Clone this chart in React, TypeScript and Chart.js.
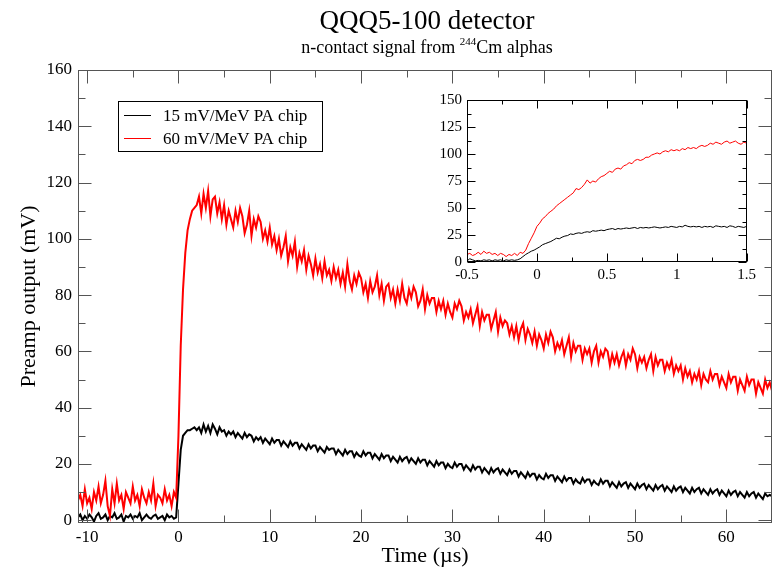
import React, { useEffect, useRef } from "react";
import { Chart, registerables } from "chart.js";

Chart.register(...registerables);

const FONT = '"Liberation Serif", "Times New Roman", serif';

const TITLE = "QQQ5-100 detector";
const SUBTITLE_PRE = "n-contact signal from ";
const SUBTITLE_SUP = "244";
const SUBTITLE_POST = "Cm alphas";
const X_TITLE = "Time (\u00b5s)";
const Y_TITLE = "Preamp output (mV)";
const SERIES_LABELS = ["15 mV/MeV PA chip", "60 mV/MeV PA chip"];
const SERIES_COLORS = ["#000000", "#ff0000"];

// main trace sampling (µs)
const MAIN_T_START = -11;
const MAIN_T_STEP = 0.25;

const MAIN_RED = [
  7, 9, 5, 11, 6, 8, 4, 10, 7, 12, 6, 9, 14, 5, 1.5, 11, 6, 13, 7, 9, 4, 10, 8, 6, 12, 7, 9, 5, 11, 8, 6, 10, 7, 13, 5, 9, 8, 6, 11, 7, 9, 5, 10, 8,
  30, 62, 82, 95, 103, 107, 110, 111, 112,
  115, 109, 116,
  111, 117, 108, 114,
  115, 109, 113, 107,
  112, 105, 110, 107,
  104, 110, 106, 111,
  108, 102, 105, 110,
  101, 107, 104, 108,
  106, 100, 103, 99,
  104, 98, 101, 96,
  100, 94, 97, 101,
  92, 97, 94, 99,
  90, 95, 92, 96,
  89, 94, 91, 87,
  93, 88, 91, 86,
  92, 87, 89, 85,
  90, 86, 89, 84,
  88, 83, 91, 85,
  82, 87, 84, 88,
  86, 81, 84, 79,
  85, 81, 83, 87,
  80, 84, 78, 83,
  84, 79, 82, 77,
  82, 78, 84, 79,
  77, 82, 79, 83,
  81, 76, 78, 82,
  75, 80, 77, 79,
  79, 74, 78, 75,
  78, 73, 77, 74,
  72, 77, 75, 78,
  76, 71, 74, 72,
  75, 70, 73, 76,
  69, 74, 71, 73,
  73, 68, 71, 74,
  67, 72, 69, 71,
  70, 66, 69, 65,
  69, 64, 68, 70,
  64, 68, 66, 63,
  67, 62, 66, 64,
  61, 66, 63, 67,
  65, 60, 63, 61,
  64, 59, 62, 65,
  58, 63, 60, 62,
  62, 57, 61, 59,
  61, 56, 60, 62,
  56, 60, 58, 61,
  60, 55, 59, 56,
  59, 55, 58, 60,
  55, 59, 57, 61,
  59, 54, 58, 56,
  58, 54, 57, 59,
  53, 58, 55, 57,
  57, 53, 56, 54,
  57, 52, 55, 53,
  55, 50, 54, 51,
  53, 49, 52, 50,
  53, 48, 52, 50,
  49, 53, 50, 52,
  52, 48, 51, 49,
  47, 52, 49, 51,
  51, 46, 50, 48,
  46, 51, 48, 50,
  50, 45, 49, 47,
  45, 50, 47, 49,
  46,
];

const MAIN_BLACK = [
  1, 2, 0, 1.5, 0.5, 2, 1, -0.5, 1.5, 2.5, 0.5, 1, 2, 0, 1.5, 1, 2.5, 0.5, 1, 2, -0.5, 1.5, 1, 2, 0.5, 1.5, 1, 2.5, 0, 1, 2, 1, 0.5, 1.5, 2, 0.5, 1, 1.5, 0, 2, 1, 1.5, 0.5, 1,
  13, 25, 30, 31, 32, 32, 32.5, 33, 32,
  33, 31, 34,
  31.5, 33.5, 31, 34,
  32.5, 30.5, 33, 31.5,
  32, 30, 31.5, 30.5,
  31.5, 29.5, 31, 30,
  29, 31, 29.5, 30.5,
  30, 28, 29.5, 28.5,
  29.5, 27.5, 29, 28,
  27, 29, 27.5, 28.5,
  28.5, 26.5, 28, 27,
  26, 28, 26.5, 27.5,
  27.5, 25.5, 27, 26,
  25, 27, 25.5, 26.5,
  26.5, 24.5, 26, 25,
  24, 26, 25, 25.5,
  25.5, 23.5, 25, 24,
  23, 25, 23.5, 24.5,
  24.5, 22.5, 24, 23,
  22.5, 24.5, 23, 24,
  24, 22, 23.5, 22.5,
  21.5, 23.5, 22, 23,
  23, 21, 22.5, 21.5,
  20.5, 22.5, 21, 22,
  22.5, 20.5, 22, 21,
  20, 22, 20.5, 21.5,
  21.5, 19.5, 21, 20,
  19, 21, 19.5, 20.5,
  20.5, 18.5, 20, 19,
  18.5, 20.5, 19, 20,
  20, 18, 19.5, 18.5,
  17.5, 19.5, 18, 19,
  19, 17, 18.5, 17.5,
  16.5, 18.5, 17, 18,
  18.5, 16.5, 18, 17,
  16, 18, 16.5, 17.5,
  17.5, 15.5, 17, 16,
  15, 17, 15.5, 16.5,
  16.5, 14.5, 16, 15,
  14.5, 16.5, 15, 16,
  16, 14, 15.5, 14.5,
  13.5, 15.5, 14, 15,
  15, 13, 14.5, 13.5,
  13, 15, 13.5, 14.5,
  14.5, 12.5, 14, 13,
  12.5, 14.5, 13, 14,
  14, 12, 13.5, 12.5,
  11.5, 13.5, 12, 13,
  13.5, 11.5, 13, 12,
  11, 13, 11.5, 12.5,
  13, 11, 12.5, 11.5,
  10.5, 12.5, 11, 12,
  12.5, 10.5, 12, 11,
  10, 12, 10.5, 11.5,
  12, 10, 11.5, 10.5,
  9.5, 11.5, 10, 11,
  11.5, 9.5, 11, 10,
  9, 11, 9.5, 10.5,
  11, 9, 10.5, 9.5,
  8.5, 10.5, 9, 10,
  10.5, 8.5, 10, 9,
  8, 10, 8.5, 9.5,
  10, 8, 9.5, 8.5,
  7.5, 9.5, 8.5, 9,
  8.5,
];

// inset trace sampling (µs)
const INSET_T_START = -0.5;
const INSET_T_STEP = 0.02;

const INSET_RED = [
  7, 8, 6, 7, 9, 7, 10, 8, 9, 7, 8, 6, 8, 7, 5, 7, 6, 8, 6, 9,
  8, 11, 17, 22, 27, 33, 36, 40, 42, 45,
  47, 49, 52, 54, 56, 58, 60, 62, 64, 68,
  67, 69, 72, 76, 73, 75, 74, 77, 79, 80,
  82, 84, 83, 86, 87, 86, 89, 90, 92, 91,
  94, 95, 94, 95, 97, 97, 99, 100, 101, 100,
  102, 103, 102, 104, 103, 104, 103, 105, 104, 106,
  105, 106, 105, 107, 108, 107, 108, 110, 109, 111,
  110, 109, 111, 112, 110, 111, 112, 110, 109, 111,
  110,
];

const INSET_BLACK = [
  1, 3, 2, 1, 1.5, 1, 2, 1.5, 2, 1, 2, 1.5, 2, 1, 2, 1.5, 2, 1.5, 2, 3,
  5, 7, 8.5, 10, 11, 12.5, 14, 16, 17, 18,
  19, 20.5, 22, 21.5, 23, 24, 24.5, 26, 25.5, 26.5,
  27, 26.5, 27.5, 28, 27.5, 29, 28.5, 29, 29.5, 29,
  30, 30.5, 31, 30, 31, 30.5, 31, 31.5, 31, 31.5,
  32, 31, 32, 31.5, 32, 31.5, 32, 32.5, 32, 31.5,
  32, 32.5, 32, 33, 32.5, 32, 33, 32.5, 34, 33,
  32.5, 33, 32.5, 33, 32, 33, 32.5, 33, 32, 33.5,
  33, 32.5, 33, 32, 33.5, 33, 32, 33, 32.5, 32,
  33,
];

const MAIN_X_TICKS = [-10, 0, 10, 20, 30, 40, 50, 60];
const MAIN_X_MINOR = [-5, 5, 15, 25, 35, 45, 55];
const MAIN_Y_TICKS = [0, 20, 40, 60, 80, 100, 120, 140, 160];
const MAIN_Y_MINOR = [10, 30, 50, 70, 90, 110, 130, 150];
const INSET_X_TICKS = [-0.5, 0, 0.5, 1, 1.5];
const INSET_X_MINOR = [-0.25, 0.25, 0.75, 1.25];
const INSET_Y_TICKS = [0, 25, 50, 75, 100, 125, 150];
const INSET_Y_MINOR = [12.5, 37.5, 62.5, 87.5, 112.5, 137.5];

function toPoints(vals: number[], start: number, step: number) {
  return vals.map((y, i) => ({ x: start + i * step, y }));
}

type FrameCfg = {
  color: string;
  xMajor: number[];
  xMinor: number[];
  yMajor: number[];
  yMinor: number[];
  majorLen: number;
  minorLen: number;
  extra?: (chart: any) => void;
};

function framePlugin(cfg: FrameCfg) {
  return {
    id: "frameTicks",
    afterDraw(chart: any) {
      const { ctx, chartArea: a, scales } = chart;
      const xs = scales.x;
      const ys = scales.y;
      ctx.save();
      ctx.strokeStyle = cfg.color;
      ctx.lineWidth = 1;
      const L = Math.round(a.left) + 0.5;
      const R = Math.round(a.right) - 0.5;
      const T = Math.round(a.top) + 0.5;
      const B = Math.round(a.bottom) - 0.5;
      ctx.beginPath();
      const tx = (vals: number[], len: number) =>
        vals.forEach((v) => {
          const p = Math.round(xs.getPixelForValue(v)) + 0.5;
          ctx.moveTo(p, B);
          ctx.lineTo(p, B - len);
          ctx.moveTo(p, T);
          ctx.lineTo(p, T + len);
        });
      const ty = (vals: number[], len: number) =>
        vals.forEach((v) => {
          const p = Math.round(ys.getPixelForValue(v)) + 0.5;
          ctx.moveTo(L, p);
          ctx.lineTo(L + len, p);
          ctx.moveTo(R, p);
          ctx.lineTo(R - len, p);
        });
      tx(cfg.xMajor, cfg.majorLen);
      tx(cfg.xMinor, cfg.minorLen);
      ty(cfg.yMajor, cfg.majorLen);
      ty(cfg.yMinor, cfg.minorLen);
      ctx.stroke();
      ctx.strokeRect(L, T, R - L, B - T);
      ctx.restore();
      if (cfg.extra) cfg.extra(chart);
    },
  };
}

function drawMainDecor(chart: any) {
  const { ctx, chartArea: a } = chart;
  const cx = 427;
  ctx.save();
  ctx.fillStyle = "#000";
  ctx.textAlign = "center";
  ctx.textBaseline = "alphabetic";
  ctx.font = `27px ${FONT}`;
  ctx.fillText(TITLE, cx, 29);

  // subtitle with superscript
  const mainFont = `18px ${FONT}`;
  const supFont = `11px ${FONT}`;
  ctx.font = mainFont;
  const w1 = ctx.measureText(SUBTITLE_PRE).width;
  const w3 = ctx.measureText(SUBTITLE_POST).width;
  ctx.font = supFont;
  const w2 = ctx.measureText(SUBTITLE_SUP).width;
  const total = w1 + w2 + w3;
  let x = cx - total / 2;
  ctx.textAlign = "left";
  ctx.font = mainFont;
  ctx.fillText(SUBTITLE_PRE, x, 53);
  x += w1;
  ctx.font = supFont;
  ctx.fillText(SUBTITLE_SUP, x, 45);
  x += w2;
  ctx.font = mainFont;
  ctx.fillText(SUBTITLE_POST, x, 53);

  // axis titles
  ctx.font = `22px ${FONT}`;
  ctx.textAlign = "center";
  ctx.textBaseline = "middle";
  ctx.fillText(X_TITLE, (a.left + a.right) / 2, 556);
  ctx.save();
  ctx.translate(29, (a.top + a.bottom) / 2);
  ctx.rotate(-Math.PI / 2);
  ctx.fillText(Y_TITLE, 0, 0);
  ctx.restore();

  // legend
  const bx = 118.5, by = 101.5, bw = 204, bh = 50;
  ctx.fillStyle = "#fff";
  ctx.fillRect(bx, by, bw, bh);
  ctx.strokeStyle = "#000";
  ctx.lineWidth = 1;
  ctx.strokeRect(bx, by, bw, bh);
  ctx.font = `17px ${FONT}`;
  ctx.textAlign = "left";
  ctx.textBaseline = "middle";
  SERIES_LABELS.forEach((lab, i) => {
    const y = 115.5 + i * 23;
    ctx.strokeStyle = SERIES_COLORS[i];
    ctx.beginPath();
    ctx.moveTo(124, y);
    ctx.lineTo(151, y);
    ctx.stroke();
    ctx.fillStyle = "#000";
    ctx.fillText(lab, 163, y + 1);
  });
  ctx.restore();
}

function makeDatasets(black: number[], red: number[], start: number, step: number, width: number) {
  return [
    {
      label: SERIES_LABELS[0],
      data: toPoints(black, start, step),
      borderColor: SERIES_COLORS[0],
      borderWidth: width,
      pointRadius: 0,
      tension: 0,
      order: 1,
    },
    {
      label: SERIES_LABELS[1],
      data: toPoints(red, start, step),
      borderColor: SERIES_COLORS[1],
      borderWidth: width,
      pointRadius: 0,
      tension: 0,
      order: 0,
    },
  ];
}

function axisOpts(
  min: number,
  max: number,
  ticks: number[],
  fontSize: number,
  padding: number,
  fitSize: number,
  horizontal: boolean
) {
  return {
    type: "linear" as const,
    min,
    max,
    grid: { display: false, drawTicks: false },
    border: { display: false },
    afterBuildTicks: (s: any) => {
      s.ticks = ticks.map((v) => ({ value: v }));
    },
    afterFit: (s: any) => {
      if (horizontal) s.height = fitSize;
      else s.width = fitSize;
    },
    ticks: {
      color: "#000",
      font: { family: FONT, size: fontSize },
      padding,
      maxRotation: 0,
      autoSkip: false,
      callback: (v: any) => String(v),
    },
  };
}

export default function App() {
  const mainRef = useRef<HTMLCanvasElement>(null);
  const insetRef = useRef<HTMLCanvasElement>(null);

  useEffect(() => {
    const main = new Chart(mainRef.current as HTMLCanvasElement, {
      type: "line",
      data: { datasets: makeDatasets(MAIN_BLACK, MAIN_RED, MAIN_T_START, MAIN_T_STEP, 2) as any },
      options: {
        animation: false,
        responsive: false,
        devicePixelRatio: 1,
        parsing: false as any,
        layout: { padding: { top: 70, right: 7, left: 0, bottom: 0 } },
        plugins: { legend: { display: false }, title: { display: false }, tooltip: { enabled: false } },
        scales: {
          x: axisOpts(-11, 65, MAIN_X_TICKS, 17, 4, 47, true) as any,
          y: axisOpts(-1, 160, MAIN_Y_TICKS, 17, 6, 78, false) as any,
        },
      },
      plugins: [
        framePlugin({
          color: "#555",
          xMajor: MAIN_X_TICKS,
          xMinor: MAIN_X_MINOR,
          yMajor: MAIN_Y_TICKS,
          yMinor: MAIN_Y_MINOR,
          majorLen: 13,
          minorLen: 7,
          extra: drawMainDecor,
        }),
      ],
    });

    const inset = new Chart(insetRef.current as HTMLCanvasElement, {
      type: "line",
      data: { datasets: makeDatasets(INSET_BLACK, INSET_RED, INSET_T_START, INSET_T_STEP, 1) as any },
      options: {
        animation: false,
        responsive: false,
        devicePixelRatio: 1,
        parsing: false as any,
        layout: { padding: { top: 13, right: 13, left: 0, bottom: 0 } },
        plugins: { legend: { display: false }, title: { display: false }, tooltip: { enabled: false } },
        scales: {
          x: axisOpts(-0.5, 1.5, INSET_X_TICKS, 15, 4, 28, true) as any,
          y: axisOpts(0, 150, INSET_Y_TICKS, 15, 5, 47, false) as any,
        },
      },
      plugins: [
        framePlugin({
          color: "#000",
          xMajor: INSET_X_TICKS,
          xMinor: INSET_X_MINOR,
          yMajor: INSET_Y_TICKS,
          yMinor: INSET_Y_MINOR,
          majorLen: 8,
          minorLen: 4,
        }),
      ],
    });

    return () => {
      main.destroy();
      inset.destroy();
    };
  }, []);

  return (
    <div style={{ position: "fixed", left: 0, top: 0, width: 779, height: 570, background: "#fff" }}>
      <canvas
        ref={mainRef}
        width={779}
        height={570}
        style={{ position: "absolute", left: 0, top: 0, width: 779, height: 570 }}
      />
      <canvas
        ref={insetRef}
        width={340}
        height={204}
        style={{ position: "absolute", left: 420, top: 86, width: 340, height: 204 }}
      />
    </div>
  );
}
